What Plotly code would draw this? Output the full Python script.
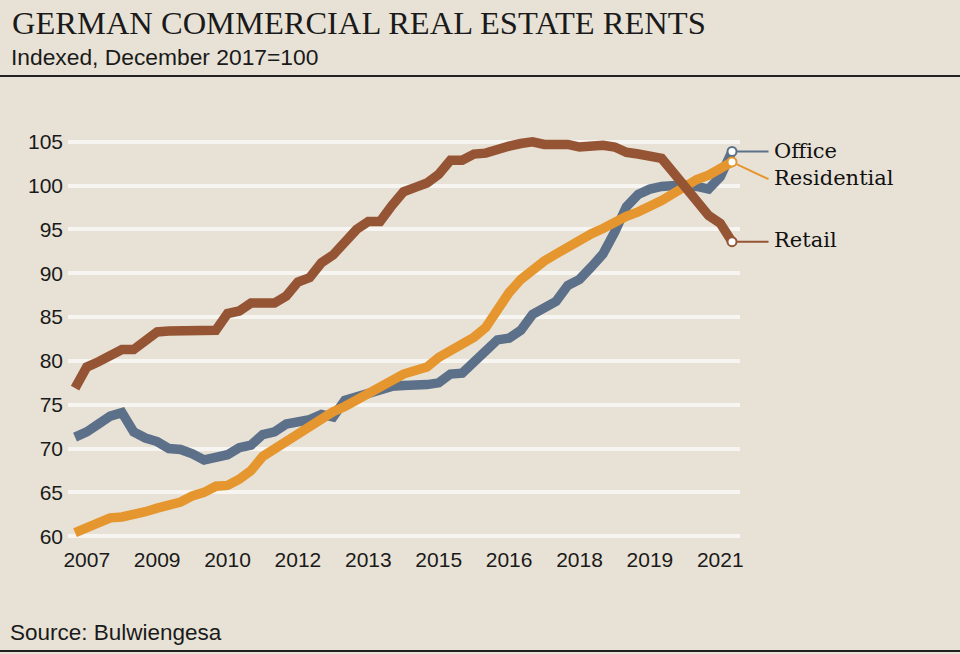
import plotly.graph_objects as go

# Quarterly observations, Q4 2006 .. Q4 2020 (x in fractional years)
start_year = 2006.75
n_points = 57
quarters = [start_year + 0.25 * i for i in range(n_points)]

office = [71.3, 71.9, 72.8, 73.7, 74.1, 71.9, 71.2, 70.8, 70.0, 69.9,
          69.4, 68.7, 69.0, 69.3, 70.1, 70.4, 71.6, 71.9, 72.8, 73.1,
          73.3, 73.9, 73.6, 75.5, 75.9, 76.3, 76.9, 77.1, 77.2, 77.2,
          77.3, 77.5, 78.5, 78.6, 79.8, 81.0, 82.4, 82.6, 83.5, 85.3,
          86.2, 86.8, 88.6, 89.3, 90.7, 92.2, 94.7, 97.6, 99.0, 99.6,
          99.9, 100.0, 100.1, 99.9, 99.6, 101.0, 103.9]

residential = [60.4, 60.9, 61.6, 62.1, 62.2, 62.4, 62.8, 63.2, 63.6, 63.9,
               64.6, 65.0, 65.7, 65.8, 66.5, 67.5, 69.1, 70.0, 70.7, 71.6,
               72.6, 73.4, 74.2, 74.8, 75.5, 76.2, 76.9, 77.9, 78.5, 78.9,
               79.3, 80.4, 81.1, 81.8, 82.7, 83.8, 86.0, 87.8, 89.3, 90.4,
               91.4, 92.2, 93.0, 93.9, 94.5, 95.1, 95.9, 96.5, 97.0, 97.6,
               98.3, 99.1, 100.0, 100.7, 101.2, 101.9, 102.7]

retail = [76.9, 79.3, 79.9, 80.5, 81.3, 81.3, 82.2, 83.3, 83.4, 83.4,
          83.4, 83.5, 83.5, 85.4, 85.7, 86.6, 86.6, 86.6, 87.4, 89.0,
          89.5, 91.2, 92.1, 93.5, 95.0, 95.9, 95.9, 97.7, 99.3, 99.8,
          100.3, 101.3, 102.9, 102.9, 103.6, 103.7, 104.2, 104.5, 104.8, 105.0,
          104.7, 104.7, 104.7, 104.4, 104.6, 104.6, 104.4, 103.8, 103.6, 103.4,
          103.1, 101.5, 99.9, 98.2, 96.6, 95.7, 93.6]

series_names = ["Office", "Residential", "Retail"]
tick_years = [2007 + 1.5 * k for k in range(10)]
tick_labels = ["2007", "2009", "2010", "2012", "2013", "2015", "2016", "2018", "2019", "2021"]
y_ticks = [60, 65, 70, 75, 80, 85, 90, 95, 100, 105]

# styling / layout
colors = {"Office": "#5d7089", "Residential": "#e5962f", "Retail": "#955535"}
label_y = {"Office": 103.9, "Residential": 100.9, "Retail": 93.8}
leader_end_y = {"Office": 103.9, "Residential": 100.65, "Retail": 93.6}
leader_x = 2021.56
label_x = 2021.60
X_RANGE = [2006.6, 2020.92]
Y_RANGE = [59, 106]
BG = "#e8e2d6"
SANS = "Liberation Sans, Arial, sans-serif"
SERIF = "Liberation Serif, Times New Roman, serif"
SLAB = "DejaVu Serif, serif"


def to_paper_x(v):
    return (v - X_RANGE[0]) / (X_RANGE[1] - X_RANGE[0])


def to_paper_y(v):
    return (v - Y_RANGE[0]) / (Y_RANGE[1] - Y_RANGE[0])


data = {"Office": office, "Residential": residential, "Retail": retail}

fig = go.Figure()
for name in series_names:
    fig.add_trace(go.Scatter(
        x=quarters, y=data[name], mode="lines", name=name,
        line=dict(color=colors[name], width=9.5),
        hoverinfo="skip"))

for name in series_names:
    fig.add_trace(go.Scatter(
        x=[quarters[-1]], y=[data[name][-1]], mode="markers",
        marker=dict(size=9, color="white", line=dict(color=colors[name], width=2)),
        cliponaxis=False, hoverinfo="skip"))

annotations = []
for name in series_names:
    annotations.append(dict(
        x=quarters[-1], y=data[name][-1], xref="x", yref="y",
        ax=leader_x, ay=leader_end_y[name], axref="x", ayref="y",
        text="", showarrow=True, arrowhead=0, arrowwidth=2,
        arrowcolor=colors[name], standoff=5, startstandoff=0))
    annotations.append(dict(
        x=to_paper_x(label_x), y=to_paper_y(label_y[name]),
        xref="paper", yref="paper",
        text=name, showarrow=False, xanchor="left", yanchor="middle",
        font=dict(family=SLAB, size=21, color="#111111")))

# subtitle and source
annotations.append(dict(
    x=-59 / 672, y=(545 - 57) / 412, xref="paper", yref="paper",
    text="Indexed, December 2017=100", showarrow=False,
    xanchor="left", yanchor="middle",
    font=dict(family=SANS, size=22.8, color="#1a1a1a")))
annotations.append(dict(
    x=-60 / 672, y=(545 - 632) / 412, xref="paper", yref="paper",
    text="Source: Bulwiengesa", showarrow=False,
    xanchor="left", yanchor="middle",
    font=dict(family=SANS, size=22.5, color="#1a1a1a")))

shapes = [
    dict(type="line", xref="paper", yref="paper",
         x0=-68 / 672, x1=892 / 672, y0=(545 - 76) / 412, y1=(545 - 76) / 412,
         line=dict(color="#222222", width=2)),
    dict(type="line", xref="paper", yref="paper",
         x0=-68 / 672, x1=892 / 672, y0=(545 - 651) / 412, y1=(545 - 651) / 412,
         line=dict(color="#222222", width=2)),
]

fig.update_layout(
    width=960, height=654,
    margin=dict(l=68, r=220, t=133, b=109),
    paper_bgcolor=BG, plot_bgcolor=BG,
    showlegend=False,
    title=dict(text="GERMAN COMMERCIAL REAL ESTATE RENTS",
               xref="container", yref="container",
               x=12 / 960, xanchor="left",
               y=1 - 23 / 654, yanchor="middle",
               font=dict(family=SERIF, size=32.5, color="#1a1a1a")),
    xaxis=dict(range=X_RANGE, tickvals=tick_years, ticktext=tick_labels,
               showgrid=False, zeroline=False, showline=False, ticks="",
               tickfont=dict(family=SANS, size=21, color="#1a1a1a")),
    yaxis=dict(range=Y_RANGE, tickvals=y_ticks,
               showgrid=True, gridcolor="#f6f5f1", gridwidth=4,
               zeroline=False, showline=False, ticks="",
               ticklabelstandoff=4,
               tickfont=dict(family=SANS, size=21, color="#1a1a1a")),
    annotations=annotations,
    shapes=shapes,
)

fig.write_html("out.html")
